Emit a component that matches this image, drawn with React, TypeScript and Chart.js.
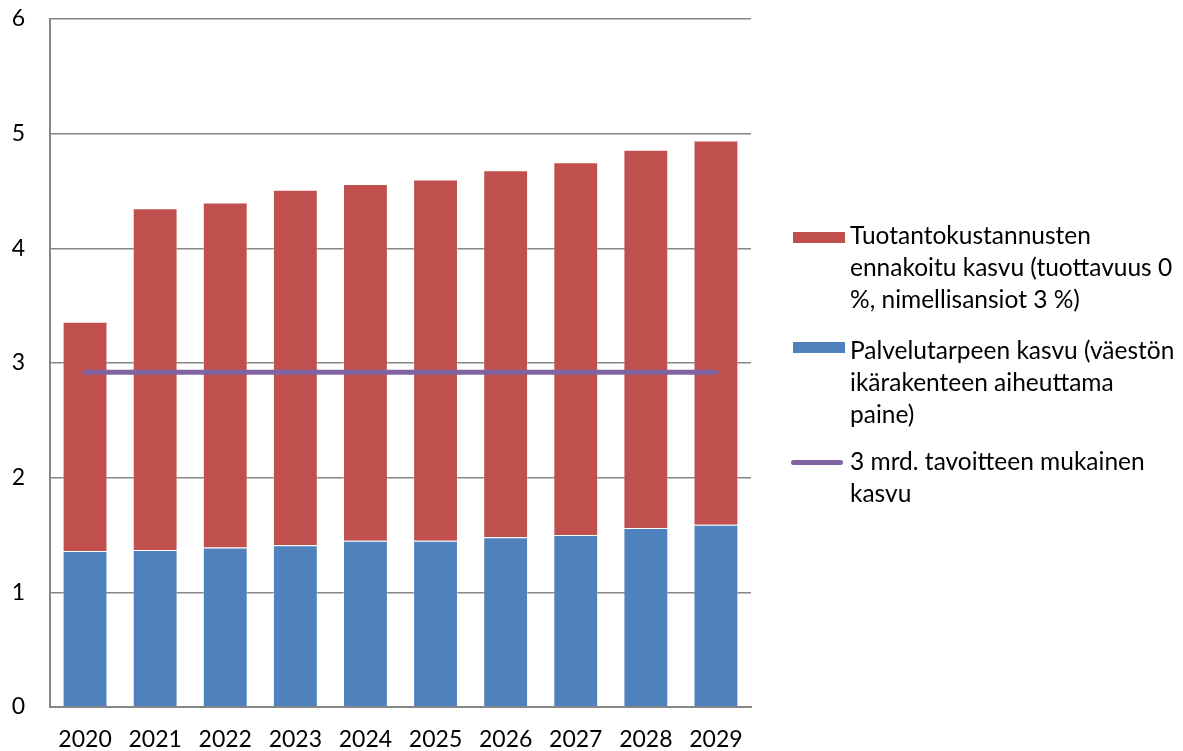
import React, { useEffect, useRef } from "react";
import { Chart, registerables } from "chart.js";

Chart.register(...registerables);

const years = ["2020", "2021", "2022", "2023", "2024", "2025", "2026", "2027", "2028", "2029"];
const palvelutarve = [1.36, 1.37, 1.39, 1.41, 1.45, 1.45, 1.48, 1.5, 1.56, 1.59];
const tuotantokustannukset = [2.0, 2.98, 3.01, 3.1, 3.11, 3.15, 3.2, 3.25, 3.3, 3.35];
const tavoite = [2.92, 2.92, 2.92, 2.92, 2.92, 2.92, 2.92, 2.92, 2.92, 2.92];

const labelRed = ["Tuotantokustannusten", "ennakoitu kasvu (tuottavuus 0", "%, nimellisansiot 3 %)"];
const labelBlue = ["Palvelutarpeen kasvu (väestön", "ikärakenteen aiheuttama", "paine)"];
const labelPurple = ["3 mrd. tavoitteen mukainen", "kasvu"];

const RED = "#C0504D";
const BLUE = "#4F81BD";
const PURPLE = "#8064A2";
const GRID = "#868686";
const FONT = "Lato, 'Open Sans', sans-serif";

export default function App() {
  const ref = useRef<HTMLCanvasElement | null>(null);

  useEffect(() => {
    if (!ref.current) return;
    const chart = new Chart(ref.current, {
      type: "bar",
      data: {
        labels: years,
        datasets: [
          {
            type: "line",
            label: labelPurple.join(" "),
            data: tavoite,
            borderColor: PURPLE,
            borderWidth: 5,
            borderCapStyle: "round",
            pointRadius: 0,
            order: 0,
          } as any,
          {
            label: labelBlue.join(" "),
            data: palvelutarve,
            backgroundColor: BLUE,
            borderColor: "rgba(255,255,255,0.35)",
            borderWidth: 1,
            order: 1,
          },
          {
            label: labelRed.join(" "),
            data: tuotantokustannukset,
            backgroundColor: RED,
            borderColor: "rgba(255,255,255,0.35)",
            borderWidth: 1,
            order: 1,
          },
        ],
      },
      options: {
        responsive: false,
        animation: false,
        layout: { padding: { top: 19, right: 432, left: 0, bottom: 0 } },
        datasets: { bar: { barPercentage: 0.64, categoryPercentage: 1 } },
        plugins: { legend: { display: false }, tooltip: { enabled: false } },
        scales: {
          x: {
            stacked: true,
            grid: { display: false, drawTicks: false },
            border: { display: true, color: GRID, width: 2 },
            ticks: { color: "#000", font: { family: FONT, size: 23 }, padding: 19, maxRotation: 0 },
            afterFit: (s: any) => { s.height = 44; s.paddingLeft = 0; s.paddingRight = 0; },
          },
          y: {
            stacked: true,
            min: 0,
            max: 6,
            grid: { color: GRID, lineWidth: 1.5, drawTicks: false },
            border: { display: true, color: GRID, width: 2 },
            ticks: { stepSize: 1, color: "#000", font: { family: FONT, size: 23 }, padding: 25 },
            afterFit: (s: any) => { s.width = 50; s.paddingTop = 0; s.paddingBottom = 0; },
          },
        },
      },
    });
    return () => chart.destroy();
  }, []);

  const textStyle: React.CSSProperties = {
    position: "absolute",
    left: 850,
    fontFamily: FONT,
    fontSize: 24.5,
    lineHeight: "32px",
    color: "#000",
    whiteSpace: "nowrap",
  };

  const item = (lines: string[], top: number) => (
    <div style={{ ...textStyle, top }}>
      {lines.map((l, i) => (
        <div key={i}>{l}</div>
      ))}
    </div>
  );

  return (
    <div style={{ position: "fixed", left: 0, top: 0, width: 1183, height: 751, background: "#fff" }}>
      <canvas ref={ref} width={1183} height={751} style={{ position: "absolute", left: 0, top: 0 }} />
      <div style={{ position: "absolute", left: 793, top: 232, width: 52, height: 11, background: RED }} />
      {item(labelRed, 219)}
      <div style={{ position: "absolute", left: 793, top: 342, width: 52, height: 11, background: BLUE }} />
      {item(labelBlue, 334)}
      <div style={{ position: "absolute", left: 791, top: 459.5, width: 52, height: 5, borderRadius: 3, background: PURPLE }} />
      {item(labelPurple, 445)}
    </div>
  );
}
